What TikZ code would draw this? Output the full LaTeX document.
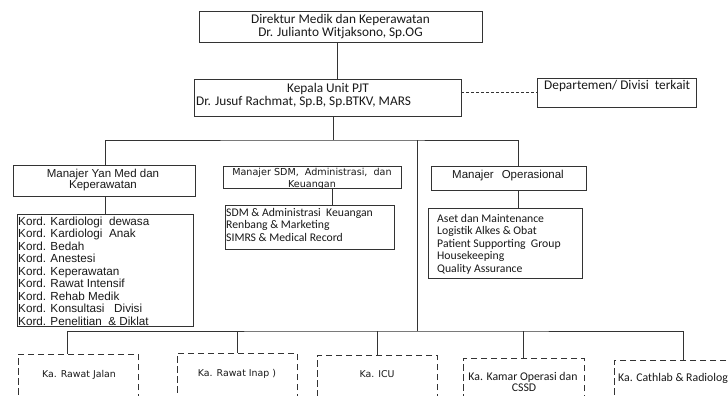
\documentclass[tikz,border=0pt]{standalone}
\usepackage{fontspec}
\setmainfont{Carlito}
\newfontfamily\arl{Liberation Sans}
\newfontfamily\dvs{DejaVu Sans}
% \orgbox{style}{name}{x1}{y1}{x2}{y2}: an empty box given by its corners
\newcommand\orgbox[6]{%
  \node[#1, minimum width={(#5-#3)*1pt}, minimum height={(#6-#4)*1pt}]
    (#2) at ({(#3+#5)/2},{(#4+#6)/2}) {};}
\begin{document}
\begin{tikzpicture}[x=1pt, y=-1pt,
  every node/.style={text=black!90},
  frame/.style={draw=black!80, line width=0.9pt, inner sep=0pt},
  dframe/.style={frame, dash pattern=on 6.5pt off 3.5pt},
  link/.style={draw=black!80, line width=0.9pt},
  dlink/.style={link, dash pattern=on 3pt off 2pt},
  txt/.style={inner sep=0pt, anchor=mid},
  hdr/.style={txt, font=\fontsize{13.3}{14}\selectfont},
  arlM/.style={txt, font=\arl\fontsize{11.5}{12}\selectfont},
  dvsM/.style={txt, font=\dvs\fontsize{9.6}{12}\selectfont},
  lstC/.style={inner sep=0pt, anchor=mid west, font=\fontsize{11.7}{12.5}\selectfont},
  lstA/.style={inner sep=0pt, anchor=mid west, font=\arl\fontsize{11.7}{12.5}\selectfont},
  kaV/.style={txt, font=\dvs\fontsize{9.4}{11}\selectfont},
  kaC/.style={txt, font=\fontsize{11.8}{12}\selectfont}]
\useasboundingbox (0,0) rectangle (728,396);
\fill[white] (0,0) rectangle (728,396);

% top of the chart
\orgbox{frame}{dir}{199}{11}{482}{42}
\node[hdr] (dir1) at (340.5,21) {Direktur Medik dan Keperawatan};
\node[hdr] (dir2) at (340.5,34.5) {Dr. Julianto Witjaksono, Sp.OG};
\orgbox{frame}{kep}{194}{79}{461}{116}
\node[hdr] (kep1) at (328,90.5) {Kepala Unit PJT};
\node[hdr, anchor=mid west] (kep2) at (196,103) {Dr. Jusuf Rachmat, Sp.B, Sp.BTKV, MARS};
\orgbox{frame}{dept}{537}{78}{696}{107}
\node[hdr, anchor=mid west] (deptt) at (544,87) {Departemen/ Divisi\ \ terkait};

% managers
\orgbox{frame}{ymed}{13}{165}{195}{196}
\node[arlM] (ymed1) at (103,175) {Manajer Yan Med dan};
\node[arlM] (ymed2) at (103,186) {Keperawatan};
\orgbox{frame}{sdm}{223}{166}{401}{188}
\node[dvsM] (sdm1) at (312,173) {Manajer SDM,\ \ Administrasi,\ \ dan};
\node[dvsM] (sdm2) at (312,185) {Keuangan};
\orgbox{frame}{ops}{431}{166}{586}{190}
\node[arlM] (ops1) at (508,176) {Manajer\hspace{0.7em}Operasional};

% lists under the managers
\orgbox{frame}{ymlist}{17}{214}{193}{326}
\orgbox{frame}{sdmlist}{225}{205}{394}{249}
\orgbox{frame}{opslist}{428}{208}{582}{278}
\foreach \t [count=\i from 0] in {Kord. Kardiologi\ \ dewasa, Kord. Kardiologi\ \ Anak,
    Kord. Bedah, Kord. Anestesi, Kord. Keperawatan, Kord. Rawat Intensif,
    Kord. Rehab Medik, Kord. Konsultasi\ \ \ Divisi, Kord. Penelitian\ \ \& Diklat}
  \node[lstA] (ym\i) at (18,{223+12.5*\i}) {\t};
\foreach \t [count=\i from 0] in {SDM \& Administrasi\ \ Keuangan, Renbang \& Marketing,
    SIMRS \& Medical Record}
  \node[lstC] (sd\i) at (226,{214+12.5*\i}) {\t};
\foreach \t [count=\i from 0] in {Aset dan Maintenance, Logistik\ Alkes \& Obat,
    Patient Supporting\ \ Group, Housekeeping, Quality Assurance}
  \node[lstC] (op\i) at (437,{220+12.5*\i}) {\t};

% units at the bottom
\orgbox{dframe}{rj}{18}{354}{138}{410}
\orgbox{dframe}{ri}{177}{353}{297}{410}
\orgbox{dframe}{icu}{317}{355}{437}{410}
\orgbox{dframe}{ko}{463}{358}{584}{410}
\orgbox{dframe}{cath}{614}{360}{770}{410}
\node[kaV] (rjt) at (79,375) {Ka. Rawat Jalan};
\node[kaV] (rit) at (237,374) {Ka. Rawat Inap )};
\node[kaV] (icut) at (377,375) {Ka. ICU};
\node[kaC] (kot1) at (523,378) {Ka. Kamar Operasi dan};
\node[kaC] (kot2) at (524,389.5) {CSSD};
\node[kaC, anchor=mid west] (catht) at (618,379) {Ka. Cathlab \& Radiolog};

% connectors
\coordinate (hub) at (333,140);
\coordinate (bus) at (417,331);
\coordinate (xdir) at (337,0);
\coordinate (ydept) at (0,92);
\coordinate (xops) at (518,0);
\coordinate (xsdm) at (332,0);
\coordinate (xrj) at (67,0);
\coordinate (xcath) at (683,0);
\draw[link] (dir.south -| xdir) -- (kep.north -| xdir);
\draw[dlink] (kep.east |- ydept) -- (dept.west |- ydept);
\draw[link] (kep.south -| hub) -- (hub);
\draw[link] (ymed.north -| ymlist.north) |- (hub) -| (ops.north -| xops);
\draw[link] (ymed.south -| ymlist.north) -- (ymlist.north);
\draw[link] (sdm.south -| xsdm) -- (sdmlist.north -| xsdm);
\draw[link] (ops.south -| xops) -- (opslist.north -| xops);
\draw[link] (hub -| bus) -- (bus);
\draw[link] (rj.north -| xrj) |- (bus) -| (cath.north -| xcath);
\foreach \b in {ri, icu, ko} \draw[link] (\b.north) -- (\b.north |- bus);
\end{tikzpicture}
\end{document}
